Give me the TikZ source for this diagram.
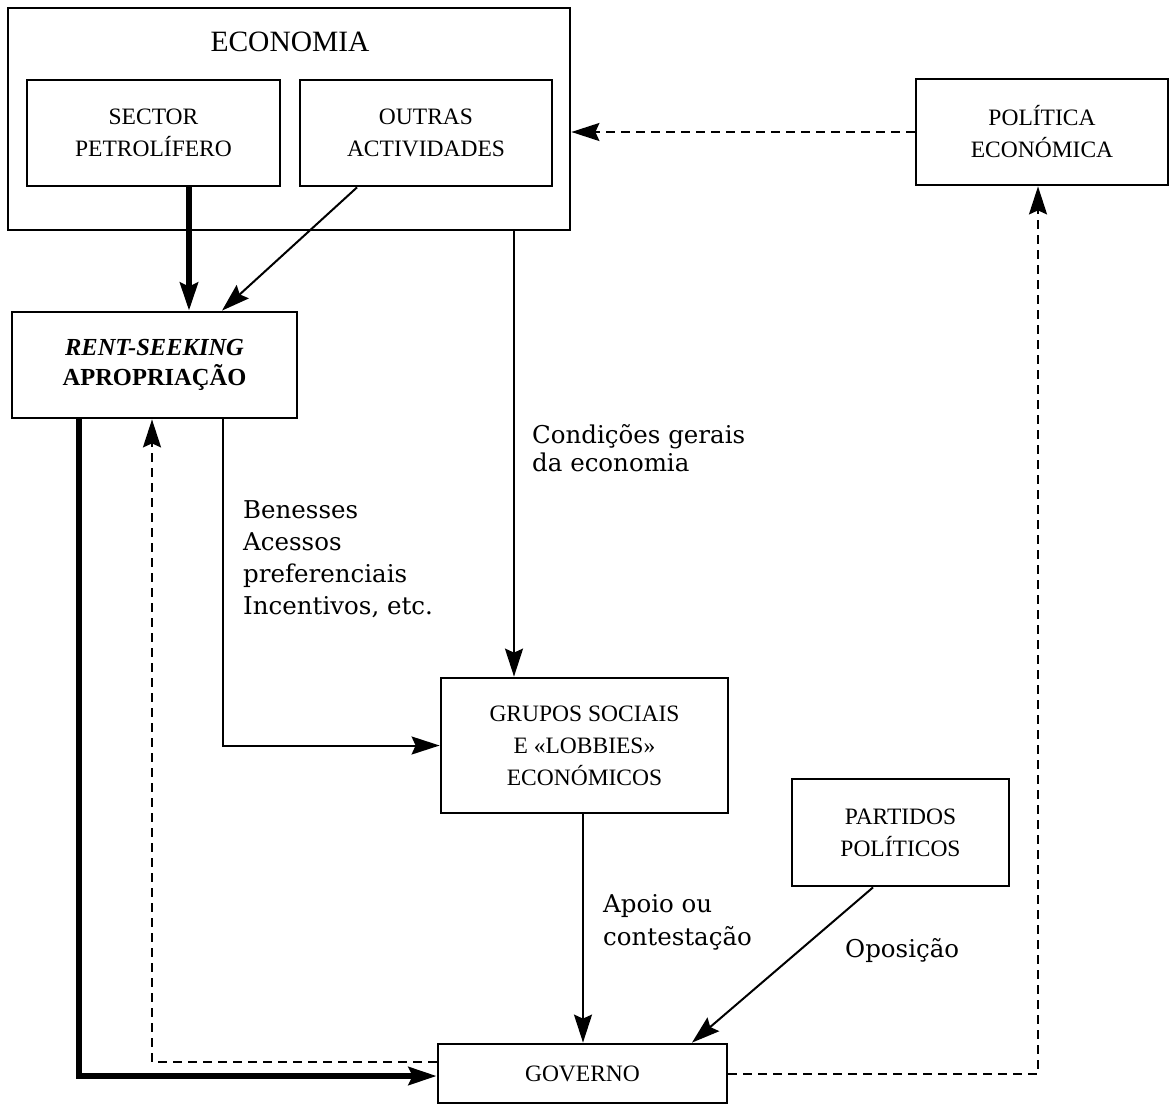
\documentclass[tikz,border=0pt]{standalone}
\usepackage{fontspec}
\setmainfont{Liberation Serif}
\newfontfamily\annfont{DejaVu Serif}
\usetikzlibrary{arrows.meta}
\begin{document}
\begin{tikzpicture}[x=1pt,y=-1pt,
  boxnode/.style={draw, line width=2.8pt, rectangle, inner sep=0pt, align=center,
    font=\fontsize{23.5}{32}\selectfont},
  tip/.style={-{Stealth[length=28pt,width=18pt,inset=4pt]}},
  thinarr/.style={tip, line width=2pt},
  thickarr/.style={tip, line width=5.5pt},
  dasharr/.style={tip, line width=2pt, dash pattern=on 9pt off 6pt},
  ann/.style={inner sep=0pt, align=left, anchor=north west}]
\useasboundingbox (0,0) rectangle (1170,1106);

% boxes
\node[boxnode, minimum width=562pt, minimum height=222pt] (econ) at (289,119) {};
\node[inner sep=0pt, font=\fontsize{29.5}{32}\selectfont] (econtitle) at (290,41.5) {ECONOMIA};
\node[boxnode, minimum width=253pt, minimum height=106pt] (sector) at (153.5,133) {SECTOR\\PETROLÍFERO};
\node[boxnode, minimum width=252pt, minimum height=106pt] (outras) at (426,133) {OUTRAS\\ACTIVIDADES};
\node[boxnode, minimum width=252pt, minimum height=106pt] (politica) at (1042,132) {POLÍTICA\\ECONÓMICA};
\node[boxnode, minimum width=285pt, minimum height=106pt, font=\fontsize{24.5}{30}\selectfont] (rs) at (154.5,365)
  {\textbf{\textit{RENT-SEEKING}}\\\textbf{APROPRIAÇÃO}};
\node[boxnode, minimum width=287pt, minimum height=135pt] (grupos) at (584.5,745.5) {GRUPOS SOCIAIS\\E «LOBBIES»\\ECONÓMICOS};
\node[boxnode, minimum width=217pt, minimum height=107pt] (partidos) at (900.5,832.5) {PARTIDOS\\POLÍTICOS};
\node[boxnode, minimum width=289pt, minimum height=59pt] (governo) at (582.5,1073.5) {GOVERNO};

% helper coordinates
\coordinate (xa) at (189,0);
\coordinate (xb) at (357,0);
\coordinate (xc) at (222,0);
\coordinate (xd) at (514,0);
\coordinate (xe) at (223,0);
\coordinate (xf) at (583,0);
\coordinate (xg) at (873,0);
\coordinate (xh) at (692,0);
\coordinate (xi) at (79,0);
\coordinate (yj) at (0,1076);
\coordinate (xl) at (152,0);
\coordinate (yk) at (0,1062);
\coordinate (xn) at (1038,0);
\coordinate (ym) at (0,1074);

% connectors
\draw[thickarr] (sector.south -| xa) -- (rs.north -| xa);
\draw[thinarr] (outras.south -| xb) -- (rs.north -| xc);
\draw[thinarr] (econ.south -| xd) -- (grupos.north -| xd);
\draw[thinarr] (rs.south -| xe) |- (grupos.west);
\draw[thinarr] (grupos.south -| xf) -- (governo.north -| xf);
\draw[thinarr] (partidos.south -| xg) -- (governo.north -| xh);
\draw[thickarr] (rs.south -| xi) |- (governo.west |- yj);
\draw[dasharr] (governo.west |- yk) -| (rs.south -| xl);
\draw[dasharr] (governo.east |- ym) -| (politica.south -| xn);
\draw[dasharr] (politica.west) -- (econ.east |- politica.west);

% annotations
\node[ann, font=\annfont\fontsize{24.5}{28}\selectfont] (t1) at (532,424) {Condições gerais\\da economia};
\node[ann, font=\annfont\fontsize{24.5}{32}\selectfont] (t2) at (243,500) {Benesses\\Acessos\\preferenciais\\Incentivos, etc.};
\node[ann, font=\annfont\fontsize{24.5}{33}\selectfont] (t3) at (603,894) {Apoio ou\\contestação};
\node[ann, font=\annfont\fontsize{24.5}{33}\selectfont] (t4) at (845,938) {Oposição};
\end{tikzpicture}
\end{document}
